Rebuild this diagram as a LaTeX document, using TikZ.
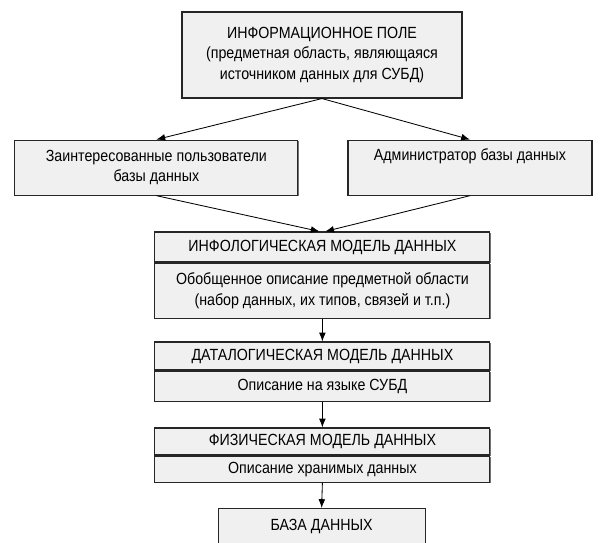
\documentclass[tikz,border=0pt]{standalone}
\usepackage{fontspec}
\setmainfont{Liberation Sans}[FakeStretch=0.88]
\usetikzlibrary{positioning,arrows.meta,shadows}
\tikzset{
  campo/.style  = {rectangle, draw=black!85, line width=0.8pt, fill=black!6, align=center, inner sep=2pt,
                   font=\fontsize{11.5}{14.5}\selectfont, drop shadow={shadow xshift=0.9pt, shadow yshift=-0.9pt, fill=black!55, opacity=1}},
  testa/.style  = {campo, minimum width=8.375cm},
  corpo/.style  = {campo, minimum width=8.375cm, below=0pt of #1},
  freccia/.style = {line width=0.6pt, -{Latex[length=2.2mm, width=1.7mm]}}
}
\begin{document}
\begin{tikzpicture}
  \path[use as bounding box, clip] (0,0) rectangle (15.1,-13.575);
  \fill[white] (0,0) rectangle (15.1,-13.575);
  \node[campo, minimum width=7.0cm, minimum height=2.15cm] (pole) at (8.05,-1.375)
    {ИНФОРМАЦИОННОЕ ПОЛЕ\\(предметная область, являющаяся\\источником данных для СУБД)};
  \node[campo, minimum width=7.075cm, minimum height=1.375cm] (utenti) at (3.91,-4.19)
    {Заинтересованные пользователи\\базы данных};
  \node[campo, minimum width=6.1cm, minimum height=1.375cm] (admin) at (11.75,-4.19)
    {Администратор базы данных\\\strut};
  \node[testa, minimum height=0.75cm] (infoH) at (8.06,-6.175) {ИНФОЛОГИЧЕСКАЯ МОДЕЛЬ ДАННЫХ};
  \node[corpo=infoH, minimum height=1.375cm] (infoB) {Обобщенное описание предметной области\\(набор данных, их типов, связей и т.п.)};
  \node[testa, minimum height=0.7cm] (dataH) at (8.06,-8.9) {ДАТАЛОГИЧЕСКАЯ МОДЕЛЬ ДАННЫХ};
  \node[corpo=dataH, minimum height=0.75cm] (dataB) {Описание на языке СУБД};
  \node[testa, minimum height=0.675cm] (fisH) at (8.06,-11.0375) {ФИЗИЧЕСКАЯ МОДЕЛЬ ДАННЫХ};
  \node[corpo=fisH, minimum height=0.65cm] (fisB) {Описание хранимых данных};
  \node[campo, minimum width=5.175cm, minimum height=1.3cm, text depth=0.5cm, anchor=north] (base) at (8.04,-12.7) {БАЗА ДАННЫХ};
  \draw[freccia] (pole.south) -- (utenti.north);
  \draw[freccia] (pole.south) -- (admin.north);
  \draw[freccia] (utenti.south) -- ([xshift=-2pt]infoH.north);
  \draw[freccia] (admin.south) -- ([xshift=2pt]infoH.north);
  \draw[freccia] (infoB.south) -- (dataH.north);
  \draw[freccia] (dataB.south) -- (fisH.north);
  \draw[freccia] (fisB.south) -- (base.north);
\end{tikzpicture}
\end{document}
